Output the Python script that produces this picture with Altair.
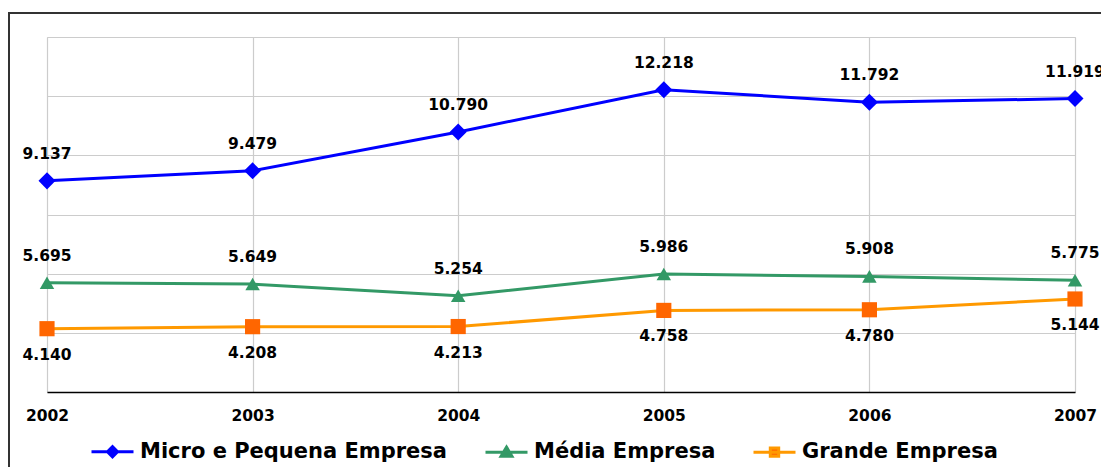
import altair as alt
import pandas as pd

# ---- data ----
years = [2002, 2003, 2004, 2005, 2006, 2007]
series_names = ["Micro e Pequena Empresa", "Média Empresa", "Grande Empresa"]
micro = [9137, 9479, 10790, 12218, 11792, 11919]
media = [5695, 5649, 5254, 5986, 5908, 5775]
grande = [4140, 4208, 4213, 4758, 4780, 5144]

line_colors = ["#0000FF", "#339966", "#FF9900"]
marker_colors = ["#0000FF", "#339966", "#FF6600"]
marker_shapes = ["diamond", "triangle-up", "square"]
marker_sizes = [290, 210, 230]
legend_paths = [
    "M-1,0H1M-0.24,0L0,-0.24L0.24,0L0,0.24Z",
    "M-1,0H1M0,-0.24L0.26,0.2L-0.26,0.2Z",
    "M-1,0H1M-0.2,-0.2H0.2V0.2H-0.2Z",
]
y_grid = [2000, 4000, 6000, 8000, 10000, 12000, 14000]
x_grid = [2002, 2002.5, 2003, 2003.5, 2004, 2004.5, 2005, 2005.5,
          2006, 2006.5, 2007]

rows = []
for name, vals in zip(series_names, [micro, media, grande]):
    for y, v in zip(years, vals):
        rows.append({"year": y, "value": v, "series": name})
df = pd.DataFrame(rows)

FONT = "DejaVu Sans"

x_enc = alt.X(
    "year:Q",
    scale=alt.Scale(domain=[2002, 2007], nice=False, zero=False),
    axis=alt.Axis(
        values=x_grid, title=None, ticks=False, format="d",
        labelExpr="datum.value % 1 === 0 ? datum.label : ''",
        labelFlush=False, labelOverlap=False, labelPadding=16,
        labelFont=FONT, labelFontWeight="bold", labelFontSize=15.5,
        labelColor="#000000", domainColor="#000000", domainWidth=1.5,
        gridColor="#CCCCCC", gridWidth=1.2,
    ),
)
y_enc = alt.Y(
    "value:Q",
    scale=alt.Scale(domain=[2000, 14000], nice=False, zero=False),
    axis=alt.Axis(values=y_grid, title=None, labels=False, ticks=False,
                  domain=False, gridColor="#CCCCCC", gridWidth=1.2),
)

stroke_scale = alt.Scale(domain=series_names, range=line_colors)
color_scale = alt.Scale(domain=series_names, range=marker_colors)
legend_shape_scale = alt.Scale(domain=series_names, range=legend_paths)

legend_def = alt.Legend(
    title=None, orient="none", direction="horizontal",
    legendX=43, legendY=392,
    symbolSize=1764, symbolStrokeWidth=3,
    labelFont=FONT, labelFontWeight="bold", labelFontSize=21,
    labelColor="#000000", labelLimit=500, labelOffset=5,
    columnPadding=31, padding=0,
)

base = alt.Chart(df)

# legend-only layer (no rows drawn); entries come from the scale domains
legend_layer = base.transform_filter("false").mark_point(
    filled=True, opacity=1, strokeWidth=3
).encode(
    x=x_enc, y=y_enc,
    color=alt.Color("series:N", scale=color_scale, legend=legend_def),
    stroke=alt.Stroke("series:N", scale=stroke_scale, legend=legend_def),
    shape=alt.Shape("series:N", scale=legend_shape_scale, legend=legend_def),
)

lines = base.mark_line(strokeWidth=3).encode(
    x=x_enc, y=y_enc,
    stroke=alt.Stroke("series:N", scale=stroke_scale),
)

marker_layers = []
for name, shp, sz in zip(series_names, marker_shapes, marker_sizes):
    marker_layers.append(
        base.transform_filter(alt.datum.series == name)
        .mark_point(filled=True, opacity=1, shape=shp, size=sz)
        .encode(
            x=x_enc, y=y_enc,
            color=alt.Color("series:N", scale=color_scale),
        )
    )

labels = base.transform_calculate(
    lab="replace(format(datum.value, ','), ',', '.')"
)

text_above = labels.transform_filter(
    alt.datum.series != series_names[2]
).mark_text(
    font=FONT, fontWeight="bold", fontSize=15.5, color="#000000",
    align="center", baseline="middle", dy=-27,
).encode(x=x_enc, y=y_enc, text="lab:N")

text_below = labels.transform_filter(
    alt.datum.series == series_names[2]
).mark_text(
    font=FONT, fontWeight="bold", fontSize=15.5, color="#000000",
    align="center", baseline="middle", dy=26,
).encode(x=x_enc, y=y_enc, text="lab:N")

frame = alt.Chart(pd.DataFrame({"k": [0]})).mark_rect(
    fillOpacity=0, stroke="#333333", strokeWidth=2,
).encode(
    x=alt.value(-38), x2=alt.value(1070),
    y=alt.value(-24), y2=alt.value(445),
)

chart = alt.layer(
    frame, legend_layer, lines, *marker_layers, text_above, text_below
).properties(
    width=1028, height=355,
    autosize=alt.AutoSizeParams(type="none"),
    padding={"left": 47, "top": 37, "right": 26, "bottom": 75},
).configure_view(strokeWidth=0).configure(background="#FFFFFF")

chart.save("out.html", embed_options={"renderer": "svg", "actions": False})
